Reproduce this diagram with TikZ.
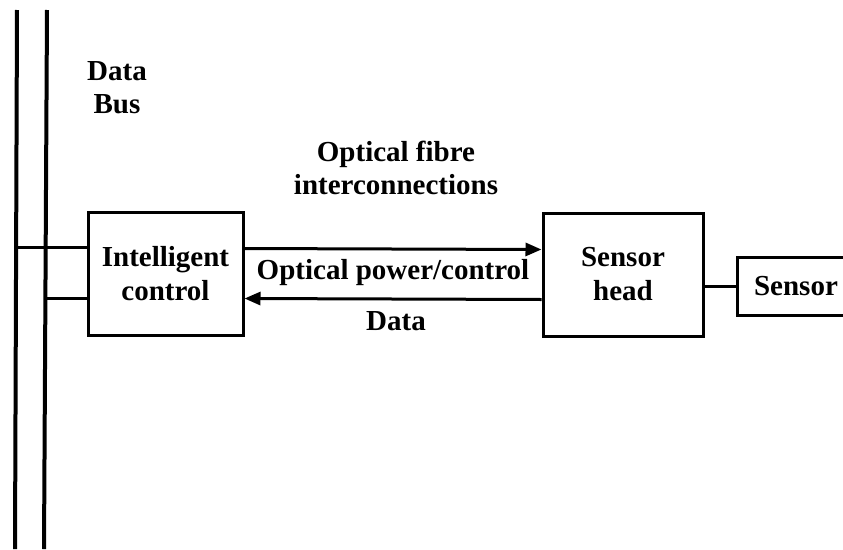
\documentclass[tikz,border=0pt]{standalone}
\usepackage{fontspec}
\setmainfont{Liberation Serif}
\usetikzlibrary{arrows.meta}

\def\linkgap{25pt}

\begin{document}
\begin{tikzpicture}[x=1pt,y=-1pt,line width=3pt,draw=black,
	every edge/.append style={draw}]
    \tikzstyle{block}=[rectangle,draw=black,line width=3pt,inner sep=0pt,
        font=\fontsize{29}{34}\selectfont\bfseries,align=center]
    \tikzstyle{annot}=[font=\fontsize{29}{33}\selectfont\bfseries,align=center]
    \tikzstyle{fibre}=[-{Triangle[length=16pt,width=13pt]}]
    \tikzstyle{bus}=[line width=4pt]

    \useasboundingbox (0,0) rectangle (843,549);

    % Draw the data bus
    \coordinate (B1-top) at (17,10);
    \coordinate (B1-bot) at (15,549);
    \coordinate (B2-top) at (47,10);
    \coordinate (B2-bot) at (44,549);
    \draw[bus] (B1-top) -- (B1-bot);
    \draw[bus] (B2-top) -- (B2-bot);
    \node[annot] (bus) at (117,88) {Data\\Bus};

    % Draw the blocks
    \node[block,minimum width=155pt,minimum height=123pt] (ctrl) at (165.5,273.5) {Intelligent\\control};
    \node[block,minimum width=160pt,minimum height=123pt] (head) at (623,274.5) {Sensor\\head};
    \begin{scope}
        \clip (0,0) rectangle (843,549);
        \node[block,minimum width=118pt,minimum height=58pt] (sens) at (796,286) {Sensor};
    \end{scope}

    % Connect the bus with the intelligent control
    \coordinate (B1-tap) at (16,247);
    \coordinate (B2-tap) at (45,298);
    \draw (B1-tap) -- (B1-tap -| ctrl.west);
    \draw (B2-tap) -- (B2-tap -| ctrl.west);

    % Optical fibre links
    \draw[fibre] ([yshift=\linkgap]ctrl.east) -- ([yshift=\linkgap]head.west);
    \draw[fibre] ([yshift=-\linkgap]head.west) -- ([yshift=-\linkgap]ctrl.east);
    \draw (head.east |- sens.west) -- (sens.west);

    % Annotate the links
    \node[annot] (fibre) at (396,168) {Optical fibre\\interconnections};
    \node[annot] (power) at (393,273) {Optical power/control};
    \node[annot] (data) at (396,321) {Data};
\end{tikzpicture}
\end{document}
